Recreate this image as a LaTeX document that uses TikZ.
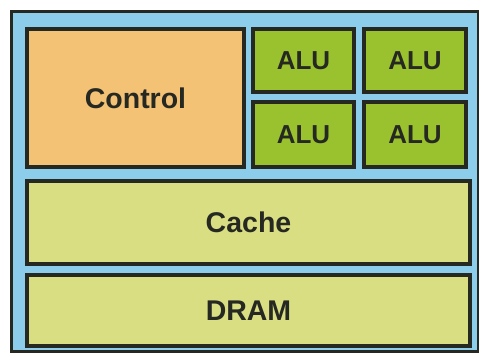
\documentclass[tikz,border=0pt]{standalone}
\usepackage{fontspec}
\setmainfont{Liberation Sans}
\definecolor{bgblue}{HTML}{8CCDEB}
\definecolor{ctrl}{HTML}{F3C274}
\definecolor{alu}{HTML}{9AC22E}
\definecolor{mem}{HTML}{D9DE82}
\definecolor{edge}{HTML}{262822}
\begin{document}
\begin{tikzpicture}[x=1pt,y=-1pt,
  blk/.style={draw=edge,line width=4pt,inner sep=0pt,font=\bfseries\fontsize{28.5}{32}\selectfont,text=edge},
  alubox/.style={blk,fill=alu,font=\bfseries\fontsize{26}{30}\selectfont}]
\useasboundingbox (0,0) rectangle (479,357);
\fill[white] (0,0) rectangle (479,357);
\node[draw=edge,fill=bgblue,line width=3pt,minimum width=467pt,minimum height=340pt,anchor=north west] (outer) at (10,10) {};
\node[blk,fill=ctrl,minimum width=217pt,minimum height=138pt,anchor=north west] (control) at (25,27) {Control};
\node[alubox,minimum width=101pt,minimum height=63pt,anchor=north west] (alu1) at (251,27) {ALU};
\node[alubox,minimum width=102pt,minimum height=63pt,anchor=north west] (alu2) at (362,27) {ALU};
\node[alubox,minimum width=101pt,minimum height=65pt,anchor=north west] (alu3) at (251,100) {ALU};
\node[alubox,minimum width=102pt,minimum height=65pt,anchor=north west] (alu4) at (362,100) {ALU};
\node[blk,fill=mem,minimum width=443pt,minimum height=83pt,anchor=north west] (cache) at (25,179) {Cache};
\node[blk,fill=mem,minimum width=443pt,minimum height=71pt,anchor=north west] (dram) at (25,273) {DRAM};
\end{tikzpicture}
\end{document}
